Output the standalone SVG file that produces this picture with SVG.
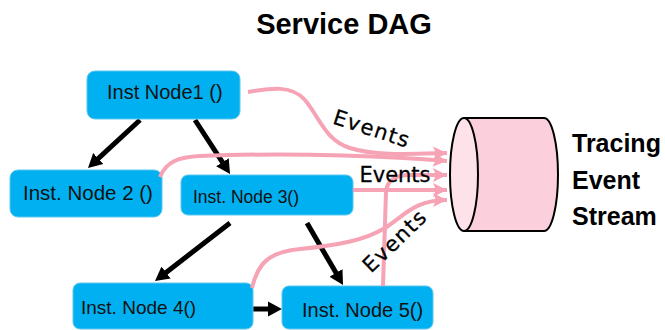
<svg xmlns="http://www.w3.org/2000/svg" width="665" height="330" viewBox="0 0 665 330">
  <style>
    .box { fill: #00b0f0; stroke: #5cc6ee; stroke-width: 1; }
    .lbl { font-family: "Liberation Sans", Arial, sans-serif; fill: #111; }
    .title { font-family: "Liberation Sans", Arial, sans-serif; font-weight: bold; fill: #000; }
    .flow { stroke: #000; stroke-width: 5; fill: none; marker-end: url(#blackHead); }
    .evt { stroke: #f5a3b5; stroke-width: 4; fill: none; marker-end: url(#pinkHead); }
    .evtLbl { font-family: "DejaVu Sans", Verdana, sans-serif; font-size: 21px; fill: #000; stroke: #000; stroke-width: 0.3; }
    .spaced { letter-spacing: 1.5px; }
  </style>
  <defs>
    <marker id="blackHead" markerUnits="userSpaceOnUse" markerWidth="16" markerHeight="16" viewBox="0 -8 16 16" refX="2" refY="0" orient="auto">
      <path d="M0,-7.5 L14,0 L0,7.5 z" fill="#000"/>
    </marker>
    <marker id="pinkHead" markerUnits="userSpaceOnUse" markerWidth="16" markerHeight="16" viewBox="0 -8 16 16" refX="14" refY="0" orient="auto">
      <path d="M0,-7 L14,0 L0,7 L3,0 z" fill="#f5a3b5"/>
    </marker>
  </defs>

  <rect width="665" height="330" fill="#fff"/>

  <text class="title" x="344" y="34" font-size="29" text-anchor="middle">Service DAG</text>

  <!-- call edges between instrumented nodes -->
  <g id="connectors">
    <line class="flow" x1="140" y1="120" x2="96.8" y2="159.9"/>
    <line class="flow" x1="195" y1="120" x2="223.5" y2="163.9"/>
    <line class="flow" x1="230" y1="223" x2="164.5" y2="273.7"/>
    <line class="flow" x1="307" y1="223" x2="337" y2="274.6"/>
    <line class="flow" x1="253" y1="309" x2="270" y2="309"/>
  </g>

  <g id="node1">
    <rect class="box" x="87" y="71" width="153" height="48" rx="8"/>
    <text class="lbl" x="107" y="99" font-size="20">Inst Node1 ()</text>
  </g>
  <g id="node2">
    <rect class="box" x="10" y="170" width="152" height="47" rx="8"/>
    <text class="lbl" x="23" y="200" font-size="20.5">Inst. Node 2 ()</text>
  </g>
  <g id="node3">
    <rect class="box" x="181" y="175" width="172" height="40" rx="7"/>
    <text class="lbl" x="193" y="203" font-size="17.5">Inst. Node 3()</text>
  </g>
  <g id="node4">
    <rect class="box" x="73" y="283" width="180" height="46" rx="7"/>
    <text class="lbl" x="81" y="314" font-size="19">Inst. Node 4()</text>
  </g>
  <g id="node5">
    <rect class="box" x="282" y="286" width="151" height="43" rx="7"/>
    <text class="lbl" x="302" y="317" font-size="20">Inst. Node 5()</text>
  </g>

  <!-- event streams into the tracing store -->
  <g id="events">
    <path class="evt" d="M248,92 C272,88 292,85 305,100 C320,118 325,140 350,148 C375,156 410,154 447,153"/>
    <path class="evt" d="M160,177 C166,162 178,157 200,156 C300,152 400,157 447,161"/>
    <path class="evt" d="M353,190 L447,190"/>
    <path class="evt" d="M383,286 L386,192 C387,180 395,175 410,175 L447,175"/>
    <path class="evt" d="M252,288 C258,262 270,252 300,249 C340,245 365,240 385,228 C405,215 415,200 447,200"/>
  </g>

  <text class="evtLbl spaced" x="372" y="129" text-anchor="middle" dominant-baseline="central" transform="rotate(18 372 129)">Events</text>
  <text class="evtLbl" x="395" y="182" text-anchor="middle">Events</text>
  <text class="evtLbl spaced" x="395" y="241" text-anchor="middle" dominant-baseline="central" transform="rotate(-44 395 241)">Events</text>

  <g id="tracingStream">
    <path d="M464,118 L544,118 A14,56.5 0 0 1 544,231 L464,231" fill="#fbcfdb" stroke="#000" stroke-width="2"/>
    <ellipse cx="464" cy="174.5" rx="14" ry="56.5" fill="#fde2ea" stroke="#000" stroke-width="2"/>
    <text class="title" x="572" y="152" font-size="25">Tracing</text>
    <text class="title" x="572" y="189" font-size="25">Event</text>
    <text class="title" x="572" y="225" font-size="25">Stream</text>
  </g>
</svg>
